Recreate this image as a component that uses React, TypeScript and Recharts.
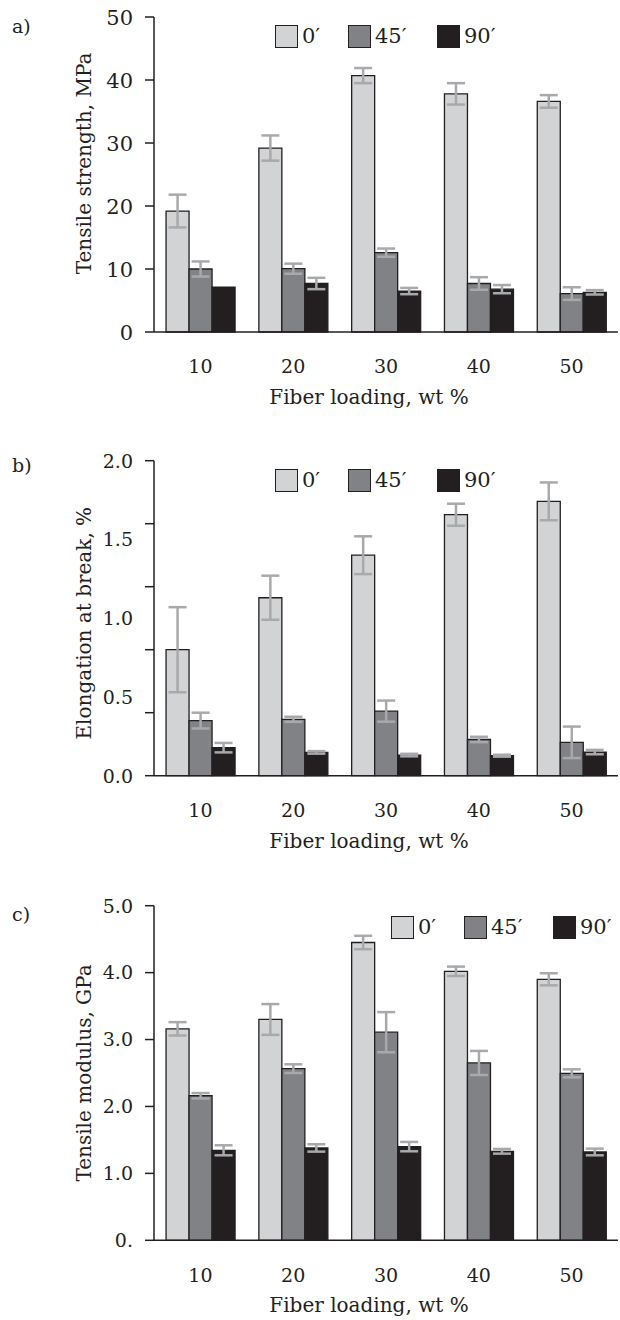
import React from "react";
import { BarChart, Bar, XAxis, YAxis, ErrorBar, Legend } from "recharts";

// ---------- data ----------
const categories = ["10", "20", "30", "40", "50"];
const seriesNames = ["0\u2032", "45\u2032", "90\u2032"];

// a) Tensile strength, MPa
const tensile0 = [19.2, 29.2, 40.7, 37.8, 36.6];
const tensile45 = [10.0, 10.05, 12.6, 7.7, 6.1];
const tensile90 = [7.1, 7.7, 6.5, 6.8, 6.3];
const tensileErr0 = [2.6, 2.0, 1.2, 1.7, 1.0];
const tensileErr45 = [1.2, 0.8, 0.65, 1.0, 1.0];
const tensileErr90 = [null, 0.9, 0.5, 0.65, 0.35];

// b) Elongation at break, %
const elong0 = [0.8, 1.13, 1.4, 1.657, 1.742];
const elong45 = [0.35, 0.358, 0.41, 0.23, 0.212];
const elong90 = [0.178, 0.148, 0.131, 0.127, 0.15];
const elongErr0 = [0.27, 0.14, 0.12, 0.07, 0.12];
const elongErr45 = [0.05, 0.016, 0.067, 0.017, 0.1];
const elongErr90 = [0.03, 0.008, 0.008, 0.006, 0.014];

// c) Tensile modulus, GPa
const modulus0 = [3.16, 3.3, 4.45, 4.02, 3.9];
const modulus45 = [2.16, 2.565, 3.11, 2.65, 2.495];
const modulus90 = [1.345, 1.38, 1.4, 1.33, 1.32];
const modulusErr0 = [0.1, 0.23, 0.1, 0.07, 0.09];
const modulusErr45 = [0.04, 0.065, 0.3, 0.18, 0.06];
const modulusErr90 = [0.075, 0.055, 0.07, 0.035, 0.05];

// tick definitions
const aTickMarks = [0, 10, 20, 30, 40, 50];
const aTickValues = [0, 10, 20, 30, 40, 50];
const aTickText = ["0", "10", "20", "30", "40", "50"];

const bTickMarks = [0, 0.4, 0.8, 1.2, 1.6, 2.0];
const bTickValues = [0, 0.5, 1.0, 1.5, 2.0];
const bTickText = ["0.0", "0.5", "1.0", "1.5", "2.0"];

const cTickMarks = [0, 1, 2, 3, 4, 5];
const cTickValues = [0, 1, 2, 3, 4, 5];
const cTickText = ["0.", "1.0", "2.0", "3.0", "4.0", "5.0"];

// ---------- style ----------
const FONT = '"DejaVu Serif", serif';
const INK = "#231f20";
const FILLS = ["#d1d3d4", "#808285", "#231f20"];
const ERR = "#a7a9ac";
const LEGEND_ITEM_W = [73, 89, 60];

const near = (a: number, b: number) => Math.abs(a - b) < 1e-9;

function makeRows(values: number[][], errors: (number | null)[][]) {
  return categories.map((c, i) => ({
    cat: c,
    v0: values[0][i],
    v1: values[1][i],
    v2: values[2][i],
    e0: errors[0][i],
    e1: errors[1][i],
    e2: errors[2][i],
  }));
}

function makeTick(marks: number[], values: number[], texts: string[], fontSize: number) {
  return (props: any) => {
    const { x, y, payload } = props;
    const v = payload.value;
    const isMark = marks.some((m) => near(m, v));
    const li = values.findIndex((m) => near(m, v));
    return (
      <g>
        {isMark && <line x1={x - 9} x2={x} y1={y} y2={y} stroke={INK} strokeWidth={1.5} />}
        {li >= 0 && (
          <text
            x={x - 21}
            y={y}
            dy="0.36em"
            textAnchor="end"
            fontFamily={FONT}
            fontSize={fontSize}
            fill={INK}
          >
            {texts[li]}
          </text>
        )}
      </g>
    );
  };
}

function LegendBox() {
  return (
    <div style={{ display: "flex", alignItems: "center", fontFamily: FONT }}>
      {seriesNames.map((n, i) => (
        <div key={n} style={{ display: "flex", alignItems: "center", width: LEGEND_ITEM_W[i] }}>
          <div
            style={{
              width: 23,
              height: 23,
              boxSizing: "border-box",
              background: FILLS[i],
              border: `1.4px solid ${INK}`,
            }}
          />
          <span style={{ marginLeft: 4, fontSize: 21, lineHeight: "23px", color: INK }}>{n}</span>
        </div>
      ))}
    </div>
  );
}

type PanelCfg = {
  letter: string;
  letterTop: number;
  top: number;
  height: number;
  marginTop: number;
  xAxisHeight: number;
  domain: [number, number];
  marks: number[];
  tickValues: number[];
  tickText: string[];
  tickFont: number;
  yTitle: string;
  yTitleDy: number;
  legendTop: number;
  legendLeft: number;
  values: number[][];
  errors: (number | null)[][];
};

const panels: PanelCfg[] = [
  {
    letter: "a)",
    letterTop: 15,
    top: 0,
    height: 420,
    marginTop: 17,
    xAxisHeight: 88,
    domain: [0, 50],
    marks: aTickMarks,
    tickValues: aTickValues,
    tickText: aTickText,
    tickFont: 21,
    yTitle: "Tensile strength, MPa",
    yTitleDy: -11,
    legendTop: 25,
    legendLeft: 275,
    values: [tensile0, tensile45, tensile90],
    errors: [tensileErr0, tensileErr45, tensileErr90],
  },
  {
    letter: "b)",
    letterTop: 454,
    top: 430,
    height: 440,
    marginTop: 30.7,
    xAxisHeight: 94.3,
    domain: [0, 2],
    marks: bTickMarks,
    tickValues: bTickValues,
    tickText: bTickText,
    tickFont: 19,
    yTitle: "Elongation at break, %",
    yTitleDy: 5,
    legendTop: 39,
    legendLeft: 275,
    values: [elong0, elong45, elong90],
    errors: [elongErr0, elongErr45, elongErr90],
  },
  {
    letter: "c)",
    letterTop: 903,
    top: 870,
    height: 450,
    marginTop: 35.7,
    xAxisHeight: 79.7,
    domain: [0, 5],
    marks: cTickMarks,
    tickValues: cTickValues,
    tickText: cTickText,
    tickFont: 19,
    yTitle: "Tensile modulus, GPa",
    yTitleDy: 0,
    legendTop: 46,
    legendLeft: 391,
    values: [modulus0, modulus45, modulus90],
    errors: [modulusErr0, modulusErr45, modulusErr90],
  },
];

function Panel({ cfg }: { cfg: PanelCfg }) {
  const rows = makeRows(cfg.values, cfg.errors);
  const allTicks = Array.from(new Set([...cfg.marks, ...cfg.tickValues])).sort((a, b) => a - b);
  const yTitle = (props: any) => {
    const vb = props.viewBox || {};
    const cy = vb.y + vb.height / 2 + cfg.yTitleDy;
    return (
      <text
        x={91}
        y={cy}
        transform={`rotate(-90, 91, ${cy})`}
        textAnchor="middle"
        fontFamily={FONT}
        fontSize={20}
        fill={INK}
      >
        {cfg.yTitle}
      </text>
    );
  };
  const xTitle = (props: any) => {
    const vb = props.viewBox || {};
    return (
      <text
        x={vb.x + vb.width / 2 - 17}
        y={vb.y + 72}
        textAnchor="middle"
        fontFamily={FONT}
        fontSize={20}
        fill={INK}
      >
        Fiber loading, wt %
      </text>
    );
  };
  return (
    <>
      <div
        style={{
          position: "absolute",
          left: 12,
          top: cfg.letterTop,
          fontFamily: FONT,
          fontSize: 19,
          color: INK,
          lineHeight: "normal",
        }}
      >
        {cfg.letter}
      </div>
      <div style={{ position: "absolute", left: 0, top: cfg.top }}>
        <BarChart
          width={620}
          height={cfg.height}
          data={rows}
          margin={{ top: cfg.marginTop, right: 2, bottom: 0, left: 0 }}
          barCategoryGap="13%"
          barGap={0}
        >
          <XAxis
            dataKey="cat"
            height={cfg.xAxisHeight}
            tickLine={false}
            tickSize={0}
            tickMargin={28}
            axisLine={{ stroke: INK, strokeWidth: 1.5 }}
            tick={{ fill: INK, fontSize: 19, fontFamily: FONT }}
            label={{ content: xTitle }}
          />
          <XAxis
            xAxisId="frameTop"
            dataKey="cat"
            orientation="top"
            height={0}
            tick={false}
            tickLine={false}
            axisLine={{ stroke: "#3c3a3b", strokeWidth: 1.5 }}
          />
          <YAxis
            width={154}
            domain={cfg.domain}
            ticks={allTicks}
            interval={0}
            tickLine={false}
            tickSize={0}
            tickMargin={0}
            axisLine={{ stroke: INK, strokeWidth: 1.5 }}
            tick={makeTick(cfg.marks, cfg.tickValues, cfg.tickText, cfg.tickFont)}
            label={{ content: yTitle }}
          />
          <YAxis
            yAxisId="frameRight"
            orientation="right"
            width={0}
            domain={cfg.domain}
            tick={false}
            tickLine={false}
            axisLine={{ stroke: "#3c3a3b", strokeWidth: 1.5 }}
          />
          <Legend
            layout="horizontal"
            align="center"
            verticalAlign="middle"
            content={() => <LegendBox />}
            wrapperStyle={{ top: cfg.legendTop, left: cfg.legendLeft, width: 240, height: 23 }}
          />
          {[0, 1, 2].map((k) => (
            <Bar
              key={k}
              dataKey={`v${k}`}
              name={seriesNames[k]}
              fill={FILLS[k]}
              stroke={INK}
              strokeWidth={1.3}
              isAnimationActive={false}
            >
              <ErrorBar
                dataKey={`e${k}`}
                direction="y"
                width={9}
                stroke={ERR}
                strokeWidth={2.5}
                isAnimationActive={false}
              />
            </Bar>
          ))}
        </BarChart>
      </div>
    </>
  );
}

export default function App() {
  return (
    <div
      style={{
        position: "absolute",
        left: 0,
        top: 0,
        width: 620,
        height: 1320,
        background: "#fff",
        overflow: "hidden",
      }}
    >
      {panels.map((p) => (
        <Panel key={p.letter} cfg={p} />
      ))}
    </div>
  );
}
